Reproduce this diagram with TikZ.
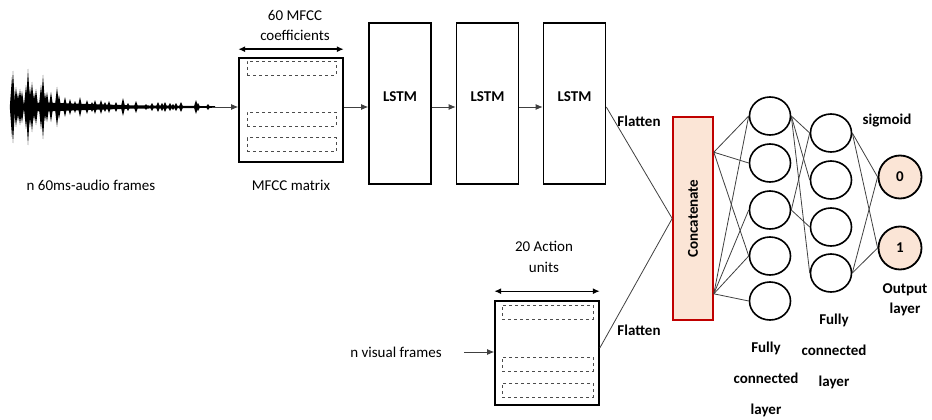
\documentclass[tikz,border=0pt]{standalone}
\usepackage{fontspec}
\setmainfont{Carlito}
\usetikzlibrary{arrows.meta,shapes.geometric,calc}
\definecolor{peach}{HTML}{FBE5D6}
\definecolor{darkred}{HTML}{C00000}
\definecolor{conn}{HTML}{404040}
\begin{document}
\begin{tikzpicture}[x=1pt,y=-1pt, font=\fontsize{15}{18}\selectfont,
  box/.style={draw, line width=1.6pt, inner sep=0pt},
  dbox/.style={draw=black!70, dashed, line width=0.8pt, inner sep=0pt, minimum width=89pt, minimum height=14pt},
  neuron/.style={ellipse, draw, line width=1.6pt, fill=white, minimum width=41pt, minimum height=38pt, inner sep=0pt},
  outn/.style={circle, draw, line width=1.8pt, fill=peach, minimum size=43pt, inner sep=0pt, font=\fontsize{15}{18}\selectfont\bfseries},
  arr/.style={-{Latex[length=7pt,width=6pt]}, line width=0.9pt, draw=conn},
  darr/.style={{Latex[length=7pt,width=6pt]}-{Latex[length=7pt,width=6pt]}, line width=1.4pt},
  link/.style={line width=0.8pt, draw=conn},
  lbl/.style={align=center, inner sep=0pt},
  blbl/.style={align=center, inner sep=0pt, font=\fontsize{15}{18}\selectfont\bfseries}]
\useasboundingbox (0,0) rectangle (932,420);

% ---- waveform ----
\fill (10,107) -- (40,102.5) -- (130,105.3) -- (215,106.2) -- (215,107.8) -- (130,108.7) -- (40,111.5) -- cycle;
\foreach \x/\a in {12/30,13/36,16/20,18/14,20/18,22/16,26/22,28/38,30/20,32/25,34/14,36/18,41/22,43/32,45/14,47/15,51/15,57/20,59/12,65/10,70/8,75/6,80/10,87/7,92/5,95/7,101/7,105/5,109/6,116/5,123/9,128/4,136/6,146/3,152/4,158/5,162/4,165/5,170/4,173/3,176/4,181/5,196/7,198/4,208/3}
  \fill (\x-2.2,107) -- (\x,107-\a) -- (\x+2.2,107) -- (\x,107+\a) -- cycle;
\coordinate (waveend) at (212,107);
\node[lbl] (wavelbl) at (91,185) {n 60ms-audio frames};

% ---- MFCC matrix ----
\node[box, minimum width=104pt, minimum height=104pt] (mfcc) at (291,110) {};
\node[dbox] (m1) at (291.5,68) {};
\node[dbox] (m2) at (291.5,119) {};
\node[dbox] (m3) at (291.5,144.5) {};
\draw[darr] ([yshift=8pt]mfcc.north west) -- ([yshift=8pt]mfcc.north east);
\node[lbl, font=\fontsize{15}{20}\selectfont] (mfcctop) at (295,25) {60 MFCC\\coefficients};
\node[lbl] (mfcclbl) at (291,185) {MFCC matrix};
\draw[arr] (waveend) -- (waveend -| mfcc.west);

% ---- LSTMs ----
\node[box, minimum width=62pt, minimum height=161pt] (l1) at (400,103.5) {};
\node[box, minimum width=62pt, minimum height=161pt] (l2) at (487.5,103.5) {};
\node[box, minimum width=62pt, minimum height=161pt] (l3) at (574.5,103.5) {};
\node[blbl] at (400,97) {LSTM};
\node[blbl] at (487.5,97) {LSTM};
\node[blbl] at (574.5,97) {LSTM};
\draw[arr] (mfcc.east |- waveend) -- (l1.west |- waveend);
\draw[arr] (l1.east |- waveend) -- (l2.west |- waveend);
\draw[arr] (l2.east |- waveend) -- (l3.west |- waveend);

% ---- Action units ----
\node[box, minimum width=104pt, minimum height=104pt] (au) at (547,353) {};
\node[dbox, minimum width=91pt] (a1) at (547.5,312) {};
\node[dbox, minimum width=91pt] (a2) at (547.5,364) {};
\node[dbox, minimum width=91pt] (a3) at (547.5,390) {};
\draw[darr] ([yshift=9pt]au.north west) -- ([yshift=9pt]au.north east);
\node[lbl, font=\fontsize{15}{21}\selectfont] (autop) at (544,256.5) {20 Action\\units};
\node[lbl] (vf) at (396,352) {n visual frames};
\coordinate (vfstart) at (464,352);
\draw[arr] (vfstart) -- (vfstart -| au.west);

% ---- Concatenate ----
\node[draw=darkred, fill=peach, line width=1.6pt, minimum width=40pt, minimum height=203pt, inner sep=0pt] (cat) at (693,218.5) {};
\node[blbl, rotate=90] at (cat.center) {Concatenate};
\coordinate (l3out) at (l3.east |- waveend);
\coordinate (auout) at ([yshift=5pt]au.east);
\draw[link] (l3out) -- (cat.west);
\draw[link] (auout) -- (cat.west);
\node[blbl] at (639,121) {Flatten};
\node[blbl] at (639,330) {Flatten};
\coordinate (catU) at ([yshift=-36pt]cat.north east);
\coordinate (catD) at ([yshift=27pt]cat.south east);

% ---- layers ----
\node[neuron] (h1) at (770,116) {};
\node[neuron] (h2) at (770,163) {};
\node[neuron] (h3) at (770,210) {};
\node[neuron] (h4) at (770,256) {};
\node[neuron] (h5) at (770,301) {};
\node[neuron] (g1) at (831,133) {};
\node[neuron] (g2) at (831,180) {};
\node[neuron] (g3) at (831,227) {};
\node[neuron] (g4) at (831,273) {};
\node[outn] (o0) at (900,177) {0};
\node[outn] (o1) at (900,248) {1};

\foreach \t in {h1,h2,h4} \draw[link] (catU) -- (\t.west);
\foreach \t in {h1,h3,h4,h5} \draw[link] (catD) -- (\t.west);
\draw[link] (h1.east) -- (g1.west);
\draw[link] (h1.east) -- (g2.west);
\draw[link] (h1.east) -- (g4.west);
\draw[link] (h3.east) -- (g1.west);
\draw[link] (h3.east) -- (g3.west);
\draw[link] (g1.east) -- (o0.west);
\draw[link] (g1.east) -- (o1.west);
\draw[link] (g4.east) -- (o0.west);
\draw[link] (g4.east) -- (o1.west);

\node[blbl] at (887,121) {sigmoid};
\node[blbl, font=\fontsize{15}{20}\selectfont\bfseries] at (905,300) {Output\\layer};
\node[blbl, font=\fontsize{15}{31}\selectfont\bfseries] at (834,351) {Fully\\connected\\layer};
\node[blbl, font=\fontsize{15}{31}\selectfont\bfseries] at (766,379) {Fully\\connected\\layer};
\end{tikzpicture}
\end{document}
